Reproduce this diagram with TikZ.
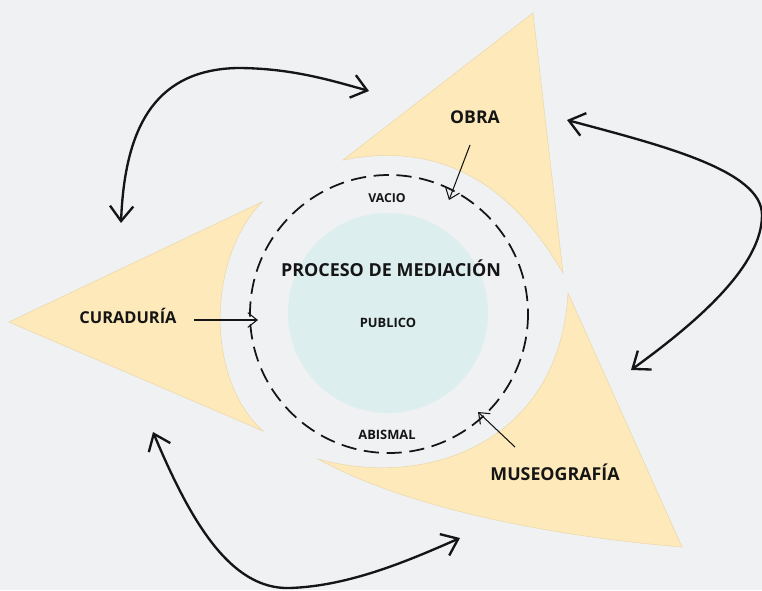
\documentclass[tikz,border=0pt]{standalone}
\usepackage{fontspec}
\setmainfont{Open Sans}
\usetikzlibrary{arrows.meta}
\definecolor{bg}{HTML}{EFF1F3}
\definecolor{tri}{HTML}{FDE9B9}
\definecolor{triedge}{HTML}{EBD6A6}
\definecolor{pub}{HTML}{DDEEEE}
\definecolor{ink}{HTML}{151515}
\tikzset{
  lbl/.style={font=\bfseries, text=ink, inner sep=0pt},
  triangle/.style={fill=tri, draw=triedge, line width=0.4pt},
  bigarrow/.style={draw=ink, line width=2pt, {Straight Barb[length=4.5mm,width=7mm]}-{Straight Barb[length=4.5mm,width=7mm]}},
  smallarrow/.style={draw=ink, line width=0.9pt, -{Straight Barb[length=2.8mm,width=4.4mm,line width=0.9pt]}},
  dashring/.style={draw=ink, line width=1.5pt, dash pattern=on 13pt off 6.5pt}
}
\begin{document}
\begin{tikzpicture}[x=0.03cm,y=-0.03cm]
\fill[bg] (0,0) rectangle (762,590);
\useasboundingbox (0,0) rectangle (762,590);
% triangles
\path[triangle] (343,160) -- (533,13) -- (563,273) .. controls (520,200) and (455,138) .. (343,160) -- cycle;
\path[triangle] (9,322) -- (262,202) .. controls (206,260) and (206,380) .. (263,431) -- cycle;
\path[triangle] (568,293) -- (682,547) .. controls (560,537) and (410,510) .. (318,459) .. controls (430,490) and (560,440) .. (568,293) -- cycle;
% centre
\fill[pub] (388,313) circle (100);
\draw[dashring] (389,314) circle (139);
% labels
\node[lbl, font=\bfseries\fontsize{15}{18}\selectfont] (obra) at (475,117) {OBRA};
\node[lbl, font=\bfseries\fontsize{14}{17}\selectfont] (cura) at (128,316) {CURADURÍA};
\node[lbl, font=\bfseries\fontsize{15.2}{18}\selectfont] (museo) at (555,472) {MUSEOGRAFÍA};
\node[lbl, font=\bfseries\fontsize{15.3}{18}\selectfont] (proc) at (391,268) {PROCESO DE MEDIACIÓN};
\node[lbl, font=\bfseries\fontsize{11}{13}\selectfont] (pub) at (388,323) {PUBLICO};
\node[lbl, font=\bfseries\fontsize{10.5}{13}\selectfont] (vacio) at (387,198) {VACIO};
\node[lbl, font=\bfseries\fontsize{11}{13}\selectfont] (abis) at (387,435) {ABISMAL};
% small arrows
\coordinate (obraS) at (470,145);
\coordinate (obraE) at (449,200);
\coordinate (curaS) at (194,320);
\coordinate (curaE) at (258,320);
\coordinate (museoS) at (515,447);
\coordinate (museoE) at (478,412);
\draw[smallarrow] (obraS) -- (obraE);
\draw[smallarrow] (curaS) -- (curaE);
\draw[smallarrow] (museoS) -- (museoE);
% big arrows
\coordinate (a1) at (121,223);
\coordinate (a2) at (369,91);
\coordinate (b1) at (567,120);
\coordinate (b2) at (631,370);
\coordinate (c1) at (153,432);
\coordinate (c2) at (460,538);
\draw[bigarrow] (a1) .. controls (125,120) and (160,70) .. (237,68) .. controls (290,68) and (330,80) .. (a2);
\draw[bigarrow] (b1) .. controls (660,145) and (762,170) .. (762,215) .. controls (762,265) and (700,320) .. (b2);
\draw[bigarrow] (c1) .. controls (190,520) and (230,590) .. (290,588) .. controls (350,586) and (410,560) .. (c2);
\end{tikzpicture}
\end{document}
